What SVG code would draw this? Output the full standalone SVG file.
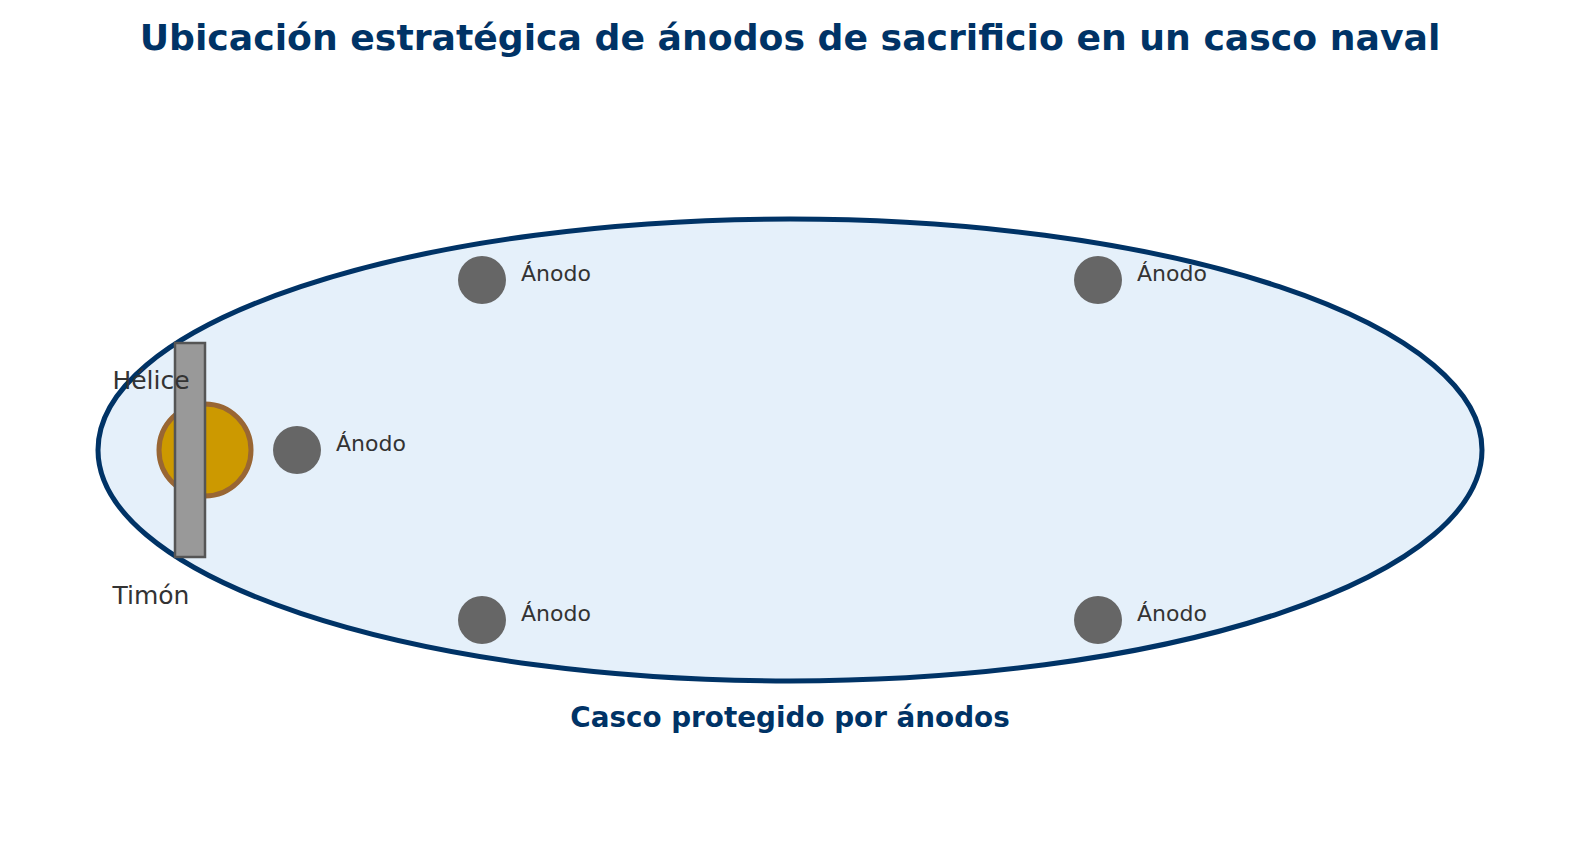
<svg xmlns="http://www.w3.org/2000/svg" width="1580" height="855" viewBox="0 0 1580 855">
<style>
.title{font-family:"DejaVu Sans",sans-serif;font-weight:bold;font-size:36.2px;fill:#003366;text-anchor:middle}
.cap{font-family:"DejaVu Sans",sans-serif;font-weight:bold;font-size:27.8px;fill:#003366;text-anchor:middle}
.lbl{font-family:"DejaVu Sans",sans-serif;font-size:25px;fill:#333333;text-anchor:middle}
.an{font-family:"DejaVu Sans",sans-serif;font-size:22px;fill:#333333}
.anode{fill:#666666}
</style>
<rect width="1580" height="855" fill="#ffffff"/>
<text class="title" x="790" y="50">Ubicación estratégica de ánodos de sacrificio en un casco naval</text>
<g id="hull">
<ellipse cx="790" cy="450" rx="692" ry="231" fill="#e5f0fa" stroke="#003366" stroke-width="5"/>
</g>
<g id="propeller">
<circle cx="205" cy="450" r="46" fill="#cc9900" stroke="#996633" stroke-width="5"/>
</g>
<g id="rudder">
<rect x="175" y="343" width="30" height="214" fill="#999999" stroke="#555555" stroke-width="2.5"/>
</g>
<g id="anode1"><circle class="anode" cx="482" cy="280" r="24"/><text class="an" x="521" y="281">Ánodo</text></g>
<g id="anode2"><circle class="anode" cx="1098" cy="280" r="24"/><text class="an" x="1137" y="281">Ánodo</text></g>
<g id="anode3"><circle class="anode" cx="482" cy="620" r="24"/><text class="an" x="521" y="621">Ánodo</text></g>
<g id="anode4"><circle class="anode" cx="1098" cy="620" r="24"/><text class="an" x="1137" y="621">Ánodo</text></g>
<g id="anode5"><circle class="anode" cx="297" cy="450" r="24"/><text class="an" x="336" y="451">Ánodo</text></g>
<g id="labels">
<text class="lbl" x="151" y="389">Hélice</text>
<text class="lbl" x="151" y="604">Timón</text>
<text class="cap" x="790" y="727">Casco protegido por ánodos</text>
</g>
<g id="connectors"></g>
</svg>
